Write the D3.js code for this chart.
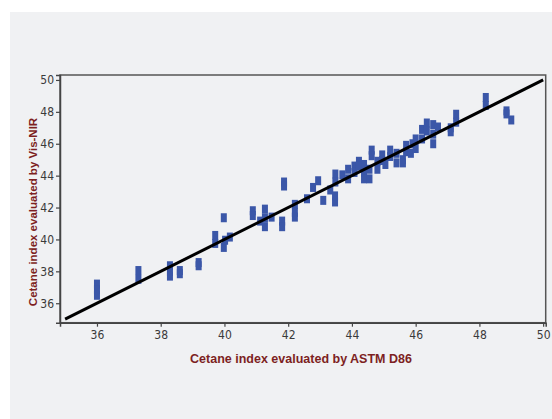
<!DOCTYPE html>
<html>
<head>
<meta charset="UTF-8">
<script src="https://cdn.jsdelivr.net/npm/d3@7"></script>
<style>
    body { margin: 0; background: #ffffff; }
    svg { display: block; }
</style>
</head>
<body>
<svg width="552" height="419"></svg>
<script>
// Cetane index by ASTM D86 (x) vs. predicted by Vis-NIR (y), one entry per marker
const astmD86 = [
    36.0, 36.0, 36.0, 37.3, 37.3, 38.29, 38.29, 38.29, 38.6, 38.6,
    39.19, 39.19, 39.71, 39.71, 39.98, 39.98, 40.02, 40.17,
    40.89, 40.89, 41.12, 41.27, 41.27, 41.27, 41.48, 41.81, 41.81,
    41.87, 41.87, 42.21, 42.21, 42.21, 42.59, 42.78, 42.94, 43.1, 43.32,
    43.47, 43.47, 43.48, 43.48, 43.7, 43.88, 43.88, 44.08, 44.08,
    44.22, 44.22, 44.38, 44.38, 44.38, 44.55, 44.55, 44.62, 44.62,
    44.8, 44.8, 44.95, 44.95, 45.05, 45.2, 45.2, 45.4, 45.4, 45.6, 45.6,
    45.7, 45.7, 45.85, 45.9, 46.0, 46.0, 46.2, 46.2, 46.35, 46.35,
    46.55, 46.55, 46.55, 46.7, 47.1, 47.1, 47.27, 47.27,
    48.2, 48.2, 48.85, 48.85, 49.0
];
const visNir = [
    37.2, 36.85, 36.5, 38.05, 37.5, 38.35, 38.0, 37.7, 38.05, 37.85,
    38.55, 38.35, 40.25, 39.75, 41.36, 39.5, 39.95, 40.15,
    41.8, 41.5, 41.15, 41.9, 41.35, 40.8, 41.4, 41.15, 40.8,
    43.6, 43.35, 42.2, 41.7, 41.4, 42.55, 43.26, 43.68, 42.45, 43.1,
    42.73, 42.35, 44.1, 43.6, 44.05, 44.4, 43.8, 44.6, 44.2,
    44.9, 44.6, 44.7, 44.2, 43.8, 44.4, 43.8, 45.6, 45.25,
    44.9, 44.4, 45.3, 44.95, 44.7, 45.6, 45.2, 45.4, 44.8, 45.0, 44.8,
    45.9, 45.5, 45.4, 46.0, 46.3, 45.7, 46.9, 46.3, 47.3, 46.8,
    47.2, 46.6, 46.0, 47.05, 47.0, 46.75, 47.85, 47.35,
    48.9, 48.4, 48.06, 47.87, 47.49
];
const xTicks = [36, 38, 40, 42, 44, 46, 48, 50];
const yTicks = [36, 38, 40, 42, 44, 46, 48, 50];
const idealLine = [35, 50];

const svg = d3.select("svg");

// grey page panel
svg.append("rect")
    .attr("x", 10).attr("y", 12)
    .attr("width", 552 - 10).attr("height", 419 - 12)
    .attr("fill", "#f0f1f3");

const plotLeft = 60, plotTop = 75, plotRight = 545.7, plotBottom = 322.7;

const x = d3.scaleLinear().domain([34.84, 50.08]).range([plotLeft, plotRight]);
const y = d3.scaleLinear().domain([34.78, 50.31]).range([plotBottom, plotTop]);

const tickFont = "'Liberation Sans Narrow', 'DejaVu Sans Condensed', Arial, sans-serif";

// frame
svg.append("rect")
    .attr("x", plotLeft).attr("y", plotTop)
    .attr("width", plotRight - plotLeft).attr("height", plotBottom - plotTop)
    .attr("fill", "none")
    .attr("stroke", "#555")
    .attr("stroke-width", 1.5);

const xAxis = svg.append("g")
    .attr("transform", "translate(0," + plotBottom + ")")
    .call(d3.axisBottom(x).tickValues(xTicks).tickSize(4).tickPadding(4));
const yAxis = svg.append("g")
    .attr("transform", "translate(" + plotLeft + ",0)")
    .call(d3.axisLeft(y).tickValues(yTicks).tickSize(4).tickPadding(2));

[xAxis, yAxis].forEach(function(ax) {
    ax.select(".domain").attr("stroke", "#444").attr("stroke-width", 1.5);
    ax.selectAll(".tick line").attr("stroke", "#444").attr("stroke-width", 1.2);
    ax.selectAll(".tick text")
        .attr("fill", "#3a3a3a")
        .style("font-family", tickFont)
        .style("font-size", "12px");
});

// points
svg.append("g").selectAll("rect")
    .data(astmD86)
    .enter().append("rect")
    .attr("x", function(d) { return x(d) - 3; })
    .attr("y", function(d, i) { return y(visNir[i]) - 4.5; })
    .attr("width", 6)
    .attr("height", 9)
    .attr("fill", "#3b57a8");

// y = x line
svg.append("line")
    .attr("x1", x(idealLine[0])).attr("y1", y(idealLine[0]))
    .attr("x2", x(idealLine[1])).attr("y2", y(idealLine[1]))
    .attr("stroke", "#000")
    .attr("stroke-width", 3);

// axis titles
svg.append("text")
    .attr("x", 301).attr("y", 363)
    .attr("text-anchor", "middle")
    .attr("fill", "#7d1f22")
    .style("font-family", "'Liberation Sans', Arial, sans-serif")
    .style("font-size", "12.5px")
    .style("font-weight", "bold")
    .text("Cetane index evaluated by ASTM D86");

svg.append("text")
    .attr("transform", "translate(37,212) rotate(-90)")
    .attr("text-anchor", "middle")
    .attr("fill", "#7d1f22")
    .style("font-family", "'Liberation Sans', Arial, sans-serif")
    .style("font-size", "11.5px")
    .style("font-weight", "bold")
    .text("Cetane index evaluated by Vis-NIR");
</script>
</body>
</html>
